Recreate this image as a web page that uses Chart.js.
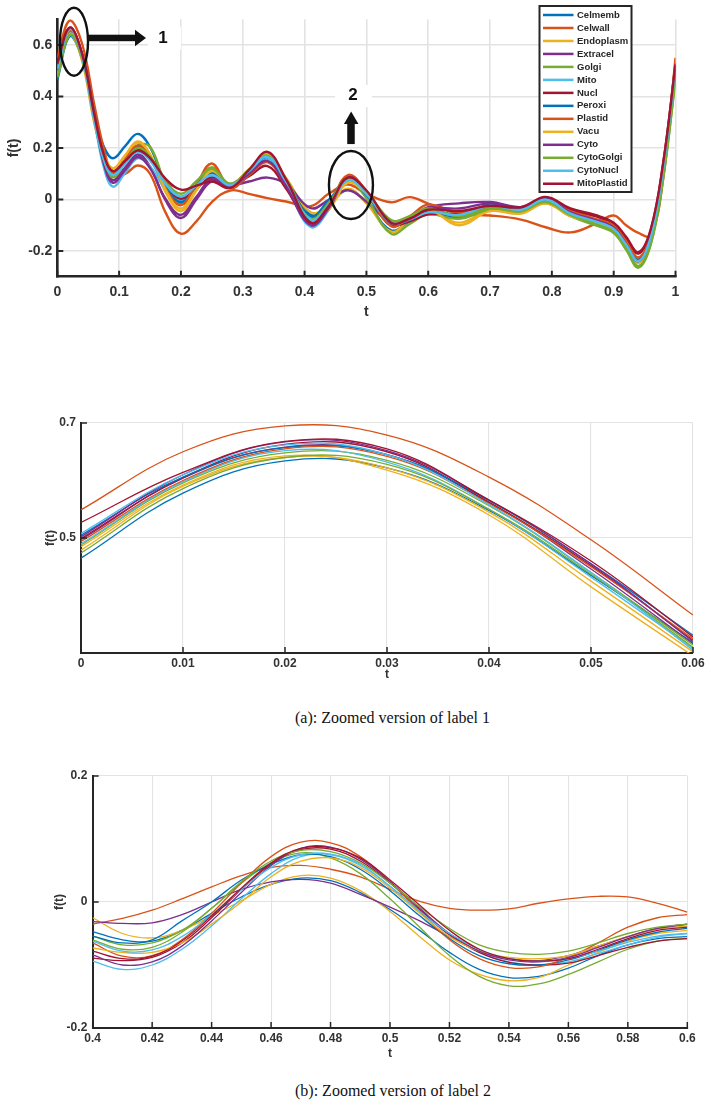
<!DOCTYPE html>
<html>
<head>
<meta charset="utf-8">
<script src="https://cdn.jsdelivr.net/npm/chart.js@4.4.1/dist/chart.umd.min.js"></script>
<style>
  body { margin: 0; background: #fff; width: 711px; height: 1110px; position: relative; overflow: hidden; }
  canvas { position: absolute; left: 0; }
  .cap { position: absolute; left: 295px; font-family: 'Liberation Serif', 'Times New Roman', serif; font-size: 16px; line-height: 18px; color: #111; white-space: nowrap; }
</style>
</head>
<body>
<canvas id="fullChart" width="711" height="324" style="top:0"></canvas>
<canvas id="label1Chart" width="711" height="283" style="top:400px"></canvas>
<div class="cap" style="top:709px">(a): Zoomed version of label 1</div>
<canvas id="label2Chart" width="711" height="302" style="top:760px"></canvas>
<div class="cap" style="top:1082px">(b): Zoomed version of label 2</div>
<script>
const seriesNames = ['Celmemb', 'Celwall', 'Endoplasm', 'Extracel', 'Golgi', 'Mito', 'Nucl',
  'Peroxi', 'Plastid', 'Vacu', 'Cyto', 'CytoGolgi', 'CytoNucl', 'MitoPlastid']
const seriesColors = ['#0072BD', '#D95319', '#EDB120', '#7E2F8E', '#77AC30', '#4DBEEE', '#A2142F',
  '#0072BD', '#D95319', '#EDB120', '#7E2F8E', '#77AC30', '#4DBEEE', '#A2142F']

// whole signal, t = 0 .. 1
const tFull = [0, 0.02, 0.04, 0.06, 0.075, 0.09, 0.11, 0.13, 0.15, 0.175, 0.2, 0.225, 0.25, 0.28, 0.31, 0.34, 0.37,
  0.41, 0.44, 0.47, 0.5, 0.54, 0.57, 0.6, 0.65, 0.7, 0.75, 0.79, 0.83, 0.87, 0.9, 0.92, 0.94, 0.96, 0.98, 1.0]
const fullValues = [
  [0.465, 0.634, 0.548, 0.318, 0.207, 0.16, 0.208, 0.255, 0.204, 0.061, -0.015, 0.043, 0.10, 0.05, 0.105, 0.16, 0.074, -0.06, -0.018, 0.038, -0.012, -0.12, -0.085, -0.055, -0.07, -0.035, -0.045, -0.01, -0.06, -0.09, -0.115, -0.175, -0.24, -0.15, 0.11, 0.5],
  [0.549, 0.695, 0.606, 0.366, 0.2, 0.1, 0.1, 0.132, 0.1, -0.05, -0.133, -0.085, -0.01, 0.035, 0.022, 0.005, -0.008, -0.026, 0.024, 0.058, 0.022, -0.011, 0.009, -0.016, -0.055, -0.062, -0.078, -0.108, -0.128, -0.095, -0.062, -0.1, -0.13, -0.14, 0.08, 0.55],
  [0.479, 0.640, 0.545, 0.302, 0.175, 0.121, 0.17, 0.22, 0.17, 0.029, -0.045, 0.035, 0.115, 0.055, 0.112, 0.17, 0.084, -0.05, -0.022, 0.042, -0.015, -0.125, -0.08, -0.045, -0.09, -0.04, -0.05, -0.012, -0.06, -0.09, -0.12, -0.18, -0.245, -0.155, 0.1, 0.49],
  [0.497, 0.658, 0.562, 0.316, 0.147, 0.075, 0.125, 0.175, 0.128, -0.003, -0.072, 0.0, 0.07, 0.055, 0.07, 0.085, 0.06, -0.034, 0.0, 0.036, -0.008, -0.09, -0.07, -0.03, -0.015, -0.01, -0.03, 0.0, -0.05, -0.085, -0.11, -0.17, -0.235, -0.145, 0.11, 0.51],
  [0.488, 0.648, 0.556, 0.314, 0.154, 0.086, 0.148, 0.21, 0.205, 0.062, -0.02, 0.052, 0.125, 0.055, 0.115, 0.175, 0.08, -0.068, -0.01, 0.078, 0.005, -0.133, -0.095, -0.058, -0.075, -0.04, -0.05, -0.015, -0.065, -0.1, -0.13, -0.195, -0.265, -0.175, 0.08, 0.465],
  [0.490, 0.652, 0.55, 0.308, 0.127, 0.05, 0.105, 0.16, 0.129, 0.041, -0.005, 0.043, 0.09, 0.05, 0.105, 0.16, 0.056, -0.107, -0.038, 0.072, 0.025, -0.095, -0.082, -0.05, -0.06, -0.025, -0.04, -0.005, -0.055, -0.085, -0.115, -0.18, -0.245, -0.15, 0.12, 0.515],
  [0.499, 0.663, 0.562, 0.322, 0.174, 0.11, 0.153, 0.195, 0.159, 0.057, 0.003, 0.044, 0.085, 0.05, 0.09, 0.13, 0.043, -0.093, -0.025, 0.083, 0.03, -0.096, -0.085, -0.058, -0.055, -0.03, -0.035, 0.005, -0.04, -0.065, -0.095, -0.15, -0.21, -0.12, 0.14, 0.52],
  [0.505, 0.657, 0.565, 0.331, 0.169, 0.1, 0.153, 0.205, 0.164, 0.05, -0.01, 0.048, 0.105, 0.06, 0.113, 0.165, 0.075, -0.065, 0.0, 0.075, 0.018, -0.098, -0.077, -0.042, -0.06, -0.02, -0.035, 0.0, -0.05, -0.08, -0.11, -0.17, -0.235, -0.14, 0.12, 0.505],
  [0.494, 0.655, 0.56, 0.325, 0.169, 0.102, 0.156, 0.21, 0.166, 0.043, -0.022, 0.059, 0.14, 0.045, 0.095, 0.145, 0.055, -0.086, -0.018, 0.095, 0.032, -0.104, -0.065, -0.02, -0.05, -0.03, -0.04, 0.0, -0.045, -0.075, -0.1, -0.16, -0.225, -0.135, 0.13, 0.53],
  [0.485, 0.643, 0.54, 0.295, 0.173, 0.12, 0.173, 0.225, 0.176, 0.038, -0.035, 0.038, 0.11, 0.06, 0.118, 0.175, 0.076, -0.08, -0.035, 0.065, 0.022, -0.088, -0.07, -0.038, -0.1, -0.045, -0.055, -0.015, -0.065, -0.09, -0.12, -0.18, -0.245, -0.155, 0.1, 0.495],
  [0.502, 0.667, 0.566, 0.32, 0.142, 0.065, 0.115, 0.165, 0.122, 0.003, -0.06, 0.01, 0.08, 0.05, 0.1, 0.15, 0.053, -0.1, -0.03, 0.085, 0.032, -0.092, -0.072, -0.035, -0.035, -0.015, -0.03, 0.005, -0.05, -0.08, -0.11, -0.175, -0.24, -0.145, 0.12, 0.515],
  [0.474, 0.640, 0.55, 0.31, 0.156, 0.09, 0.145, 0.2, 0.166, 0.072, 0.022, 0.071, 0.12, 0.06, 0.115, 0.17, 0.074, -0.075, -0.01, 0.082, 0.03, -0.08, -0.065, -0.035, -0.065, -0.035, -0.045, -0.01, -0.06, -0.095, -0.125, -0.19, -0.258, -0.17, 0.085, 0.47],
  [0.508, 0.662, 0.558, 0.305, 0.158, 0.095, 0.14, 0.185, 0.152, 0.06, 0.012, 0.054, 0.095, 0.055, 0.11, 0.165, 0.07, -0.078, -0.02, 0.075, 0.025, -0.09, -0.078, -0.05, -0.06, -0.025, -0.04, 0.0, -0.055, -0.085, -0.115, -0.175, -0.24, -0.145, 0.12, 0.515],
  [0.527, 0.668, 0.566, 0.328, 0.175, 0.11, 0.15, 0.19, 0.161, 0.081, 0.038, 0.054, 0.07, 0.045, 0.115, 0.185, 0.078, -0.09, -0.022, 0.085, 0.035, -0.09, -0.075, -0.04, -0.045, -0.025, -0.03, 0.01, -0.035, -0.06, -0.09, -0.145, -0.205, -0.115, 0.14, 0.525]
]

// label 1 close-up, t = 0 .. 0.06
const tLabel1 = [0, 0.01, 0.02, 0.03, 0.04, 0.05, 0.06]
const label1Values = [
  [0.465, 0.578, 0.634, 0.622, 0.548, 0.435, 0.318],
  [0.549, 0.650, 0.695, 0.679, 0.606, 0.497, 0.366],
  [0.479, 0.590, 0.640, 0.622, 0.545, 0.425, 0.302],
  [0.497, 0.604, 0.658, 0.645, 0.562, 0.446, 0.316],
  [0.488, 0.596, 0.648, 0.635, 0.556, 0.440, 0.314],
  [0.490, 0.598, 0.652, 0.632, 0.550, 0.432, 0.308],
  [0.499, 0.605, 0.663, 0.650, 0.562, 0.452, 0.322],
  [0.505, 0.606, 0.657, 0.645, 0.565, 0.455, 0.331],
  [0.494, 0.600, 0.655, 0.642, 0.560, 0.450, 0.325],
  [0.485, 0.592, 0.643, 0.618, 0.540, 0.415, 0.295],
  [0.502, 0.610, 0.667, 0.652, 0.566, 0.455, 0.320],
  [0.474, 0.586, 0.640, 0.628, 0.550, 0.437, 0.310],
  [0.508, 0.610, 0.662, 0.645, 0.558, 0.440, 0.305],
  [0.527, 0.614, 0.668, 0.655, 0.566, 0.460, 0.328]
]

// label 2 close-up, t = 0.4 .. 0.6
const tLabel2 = [0.4, 0.41, 0.42, 0.43, 0.44, 0.45, 0.46, 0.47, 0.48, 0.49, 0.5,
  0.51, 0.52, 0.53, 0.54, 0.55, 0.56, 0.57, 0.58, 0.59, 0.6]
const label2Values = [
  [-0.047, -0.06, -0.062, -0.045, -0.018, 0.008, 0.028, 0.038, 0.034, 0.015, -0.012, -0.045, -0.08, -0.107, -0.12, -0.118, -0.105, -0.085, -0.068, -0.058, -0.055],
  [-0.035, -0.026, -0.013, 0.005, 0.024, 0.042, 0.055, 0.058, 0.052, 0.04, 0.02, 0.001, -0.01, -0.013, -0.011, -0.002, 0.005, 0.009, 0.008, -0.002, -0.016],
  [-0.025, -0.05, -0.057, -0.045, -0.022, 0.002, 0.028, 0.042, 0.038, 0.018, -0.015, -0.055, -0.092, -0.115, -0.125, -0.12, -0.1, -0.08, -0.062, -0.05, -0.045],
  [-0.031, -0.034, -0.033, -0.02, 0.0, 0.02, 0.032, 0.036, 0.03, 0.012, -0.008, -0.03, -0.055, -0.078, -0.09, -0.093, -0.085, -0.07, -0.055, -0.042, -0.035],
  [-0.054, -0.068, -0.065, -0.045, -0.01, 0.03, 0.062, 0.078, 0.07, 0.045, 0.005, -0.04, -0.085, -0.118, -0.133, -0.13, -0.115, -0.095, -0.075, -0.062, -0.058],
  [-0.094, -0.107, -0.1, -0.075, -0.038, 0.005, 0.045, 0.072, 0.075, 0.058, 0.025, -0.015, -0.052, -0.08, -0.095, -0.1, -0.095, -0.082, -0.068, -0.056, -0.05],
  [-0.089, -0.093, -0.088, -0.065, -0.025, 0.02, 0.06, 0.083, 0.084, 0.065, 0.03, -0.012, -0.052, -0.08, -0.096, -0.1, -0.097, -0.085, -0.072, -0.062, -0.058],
  [-0.054, -0.065, -0.06, -0.03, 0.0, 0.035, 0.06, 0.075, 0.072, 0.052, 0.018, -0.022, -0.058, -0.085, -0.098, -0.1, -0.092, -0.077, -0.06, -0.048, -0.042],
  [-0.065, -0.086, -0.085, -0.06, -0.018, 0.03, 0.072, 0.095, 0.094, 0.072, 0.032, -0.015, -0.06, -0.09, -0.104, -0.103, -0.088, -0.065, -0.04, -0.025, -0.02],
  [-0.073, -0.08, -0.08, -0.065, -0.035, 0.0, 0.04, 0.065, 0.07, 0.055, 0.022, -0.018, -0.055, -0.078, -0.088, -0.09, -0.085, -0.07, -0.055, -0.043, -0.038],
  [-0.084, -0.1, -0.095, -0.07, -0.03, 0.015, 0.058, 0.085, 0.087, 0.068, 0.032, -0.01, -0.05, -0.078, -0.092, -0.095, -0.088, -0.072, -0.055, -0.042, -0.035],
  [-0.06, -0.075, -0.072, -0.048, -0.01, 0.032, 0.065, 0.082, 0.08, 0.062, 0.03, -0.008, -0.042, -0.068, -0.08, -0.083, -0.078, -0.065, -0.05, -0.04, -0.035],
  [-0.062, -0.078, -0.076, -0.055, -0.02, 0.02, 0.055, 0.075, 0.076, 0.06, 0.025, -0.015, -0.05, -0.075, -0.09, -0.094, -0.09, -0.078, -0.064, -0.054, -0.05],
  [-0.078, -0.09, -0.086, -0.062, -0.022, 0.022, 0.062, 0.085, 0.086, 0.07, 0.035, -0.005, -0.045, -0.075, -0.09, -0.094, -0.09, -0.075, -0.058, -0.045, -0.04]
]

const fullXTicks = [0, 0.1, 0.2, 0.3, 0.4, 0.5, 0.6, 0.7, 0.8, 0.9, 1]
const fullYTicks = [-0.2, 0, 0.2, 0.4, 0.6]
const label1XTicks = [0, 0.01, 0.02, 0.03, 0.04, 0.05, 0.06]
const label1YTicks = [0.5, 0.7]
const label2XTicks = [0.4, 0.42, 0.44, 0.46, 0.48, 0.5, 0.52, 0.54, 0.56, 0.58, 0.6]
const label2YTicks = [-0.2, 0, 0.2]

const FONT = "'Liberation Sans', Arial, sans-serif"
const AXIS = '#262626'

// MATLAB style ticks pointing into the plot
const inwardTicks = {
  id: 'inwardTicks',
  afterDatasetsDraw(chart, args, opts) {
    const {ctx, chartArea: a, scales: {x, y}} = chart
    ctx.save()
    ctx.strokeStyle = AXIS
    ctx.lineWidth = opts.width
    ctx.beginPath()
    x.ticks.forEach(t => {
      const px = x.getPixelForValue(t.value)
      ctx.moveTo(px, a.bottom); ctx.lineTo(px, a.bottom - opts.len)
    })
    y.ticks.forEach(t => {
      const py = y.getPixelForValue(t.value)
      ctx.moveTo(a.left, py); ctx.lineTo(a.left + opts.len, py)
    })
    ctx.stroke()
    ctx.restore()
  }
}

const boxLegend = {
  id: 'boxLegend',
  afterDraw(chart) {
    const ctx = chart.ctx
    const x0 = 539.5, y0 = 6, w = 92, h = 186, row = 12.98
    ctx.save()
    ctx.fillStyle = '#fff'
    ctx.fillRect(x0, y0, w, h)
    ctx.strokeStyle = AXIS
    ctx.lineWidth = 2
    ctx.strokeRect(x0, y0, w, h)
    ctx.font = 'bold 9.5px ' + FONT
    ctx.textBaseline = 'middle'
    chart.data.datasets.forEach((ds, i) => {
      const yy = y0 + 9 + i * row
      ctx.strokeStyle = ds.borderColor
      ctx.lineWidth = 2.5
      ctx.beginPath(); ctx.moveTo(x0 + 3.5, yy); ctx.lineTo(x0 + 34, yy); ctx.stroke()
      ctx.fillStyle = AXIS
      ctx.fillText(ds.label, x0 + 37.5, yy)
    })
    ctx.restore()
  }
}

// the two circled regions with arrows and numbers
const callouts = {
  id: 'callouts',
  afterDraw(chart) {
    const {ctx, scales: {x, y}} = chart
    ctx.save()
    ctx.strokeStyle = '#111'
    ctx.fillStyle = '#111'
    ctx.lineWidth = 2.4

    let cx = x.getPixelForValue(0.027), cy = y.getPixelForValue(0.613)
    ctx.beginPath(); ctx.ellipse(cx, cy, 14, 34, 0, 0, Math.PI * 2); ctx.stroke()
    ctx.fillRect(cx + 14, cy - 7, 48, 6.5)
    ctx.beginPath()
    ctx.moveTo(cx + 61, cy - 12); ctx.lineTo(cx + 72, cy - 3.8); ctx.lineTo(cx + 61, cy + 4.5)
    ctx.closePath(); ctx.fill()
    ctx.fillStyle = '#fff'
    ctx.fillRect(cx + 74, cy - 15, 33, 23)
    ctx.fillStyle = '#111'
    ctx.font = 'bold 17px ' + FONT
    ctx.textAlign = 'center'
    ctx.textBaseline = 'middle'
    ctx.fillText('1', cx + 89, cy - 3)

    cx = x.getPixelForValue(0.475); cy = y.getPixelForValue(0.056)
    ctx.beginPath(); ctx.ellipse(cx, cy, 22, 34, 0, 0, Math.PI * 2); ctx.stroke()
    ctx.fillRect(cx - 3.7, cy - 62, 7.5, 21)
    ctx.beginPath()
    ctx.moveTo(cx - 7, cy - 61); ctx.lineTo(cx + 7.5, cy - 61); ctx.lineTo(cx + 0.2, cy - 73.5)
    ctx.closePath(); ctx.fill()
    ctx.fillStyle = '#fff'
    ctx.fillRect(cx - 16, cy - 100, 37, 22)
    ctx.fillStyle = '#111'
    ctx.fillText('2', cx + 2, cy - 90)
    ctx.restore()
  }
}

const fmt = v => String(Math.round(v * 1000) / 1000)

function makeChart(id, t, values, c) {
  const tickFont = {family: FONT, weight: 'bold', size: c.fontSize}
  return new Chart(document.getElementById(id), {
    type: 'line',
    data: {
      datasets: values.map((row, i) => ({
        label: seriesNames[i],
        data: row.map((v, k) => ({x: t[k], y: v})),
        borderColor: seriesColors[i],
        borderWidth: c.lineWidth,
        pointRadius: 0,
        tension: 0.4,
        fill: false,
        clip: 0,
        order: values.length - i
      }))
    },
    options: {
      responsive: false,
      animation: false,
      events: [],
      layout: {padding: c.padding},
      plugins: {
        legend: {display: false},
        tooltip: {enabled: false},
        inwardTicks: {len: 6, width: c.axisWidth * 0.75}
      },
      scales: {
        x: {
          type: 'linear', min: c.xTicks[0], max: c.xTicks[c.xTicks.length - 1], bounds: 'data',
          afterBuildTicks: s => { s.ticks = c.xTicks.map(v => ({value: v})) },
          afterFit: s => { s.height = c.xAxisHeight },
          grid: {color: '#e3e3e3', lineWidth: c.gridWidth, drawTicks: false},
          border: {display: true, color: AXIS, width: c.axisWidth},
          ticks: {padding: c.xTickPad, font: tickFont, color: '#333', callback: fmt, maxRotation: 0, autoSkip: false},
          title: {display: true, text: 't', font: tickFont, color: '#333', padding: {top: 0, bottom: c.xTitlePad}}
        },
        y: {
          type: 'linear', min: c.yMin, max: c.yMax, bounds: 'data',
          afterBuildTicks: s => { s.ticks = c.yTicks.map(v => ({value: v})) },
          afterFit: s => { s.width = c.yAxisWidth },
          grid: {color: '#e3e3e3', lineWidth: c.gridWidth, drawTicks: false},
          border: {display: true, color: AXIS, width: c.axisWidth},
          ticks: {padding: c.yTickPad, font: tickFont, color: '#333', callback: fmt, autoSkip: false},
          title: {display: true, text: 'f(t)', font: tickFont, color: '#333', padding: {top: c.yTitlePad, bottom: 0}}
        }
      }
    },
    plugins: [inwardTicks].concat(c.extra || [])
  })
}

makeChart('fullChart', tFull, fullValues, {
  xTicks: fullXTicks, yTicks: fullYTicks, yMin: -0.3, yMax: 0.7,
  lineWidth: 2.4, gridWidth: 1.6, axisWidth: 2.6, fontSize: 14,
  padding: {top: 19.3, right: 35.5, bottom: 0, left: 0},
  yAxisWidth: 57.3, xAxisHeight: 47.3, xTickPad: 6.6, yTickPad: 5, xTitlePad: 3.9, yTitlePad: 5.6,
  extra: [boxLegend, callouts]
})

makeChart('label1Chart', tLabel1, label1Values, {
  xTicks: label1XTicks, yTicks: label1YTicks, yMin: 0.3, yMax: 0.7,
  lineWidth: 1.3, gridWidth: 1.1, axisWidth: 2, fontSize: 12,
  padding: {top: 23, right: 18, bottom: 0, left: 0},
  yAxisWidth: 81, xAxisHeight: 30, xTickPad: 3, yTickPad: 5, xTitlePad: 0.8, yTitlePad: 43.8
})

makeChart('label2Chart', tLabel2, label2Values, {
  xTicks: label2XTicks, yTicks: label2YTicks, yMin: -0.2, yMax: 0.2,
  lineWidth: 1.3, gridWidth: 1.1, axisWidth: 2, fontSize: 12,
  padding: {top: 16, right: 23.7, bottom: 0, left: 0},
  yAxisWidth: 92.7, xAxisHeight: 34, xTickPad: 3.8, yTickPad: 5.4, xTitlePad: 1.5, yTitlePad: 52.8
})
</script>
</body>
</html>
